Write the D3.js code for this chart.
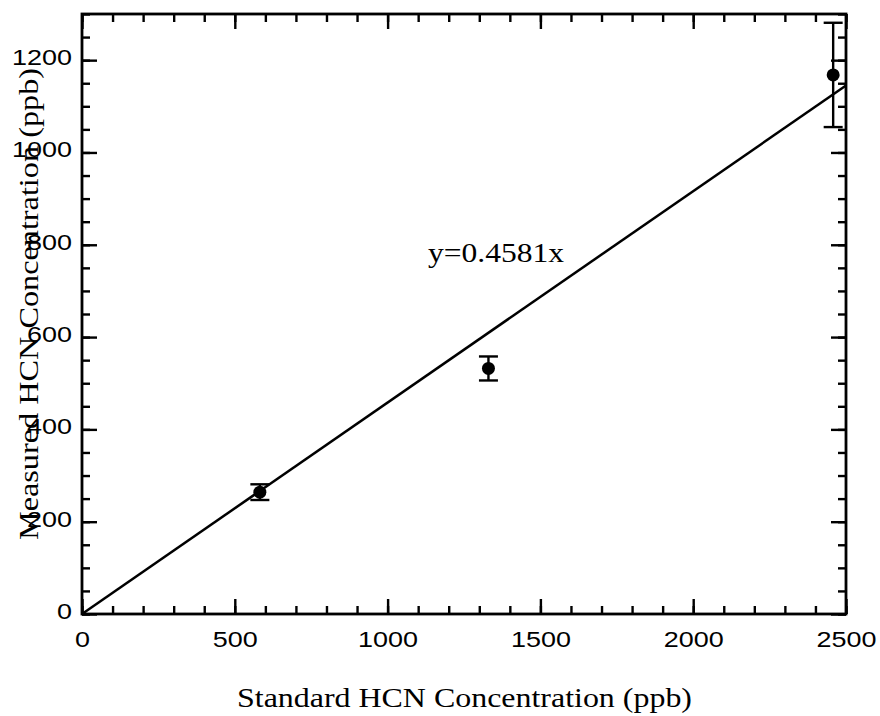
<!DOCTYPE html>
<html>
<head>
<meta charset="utf-8">
<script src="https://cdn.jsdelivr.net/npm/d3@7"></script>
<style>
body { margin: 0; background: #fff; }
svg { display: block; }
</style>
</head>
<body>
<svg id="chart" width="880" height="716"></svg>
<script>
// calibration points
const stdConc = [582, 1330, 2458];      // standard HCN (ppb)
const measConc = [264, 532, 1168];      // measured HCN (ppb)
const errConc = [17, 26, 113];          // +/- error (ppb)
const slope = 0.4581;
const xMajor = [0, 500, 1000, 1500, 2000, 2500];
const yMajor = [0, 200, 400, 600, 800, 1000, 1200];

var svg = d3.select('#chart');
// note: "top" is taken by window.top, so prefix the frame edges
var pLeft = 82, pRight = 846, pTop = 14, pBottom = 614;

var x = d3.scaleLinear().domain([0, 2500]).range([pLeft, pRight]);
var y = d3.scaleLinear().domain([0, 1300]).range([pBottom, pTop]);

function stretchText(sel){
	sel.selectAll('text')
		.attr('font-family', 'Liberation Sans, Arial, sans-serif')
		.attr('font-size', 22)
		.attr('fill', '#000')
		.attr('lengthAdjust', 'spacingAndGlyphs')
		.attr('textLength', function(d){ return String(d).length*15 })
}

// minor ticks, all four sides
var xMinor = d3.range(0, 2501, 100), yMinor = d3.range(0, 1301, 50);
function ticks(axis, tr){
	var g = svg.append('g').attr('transform', tr).call(axis);
	g.select('.domain').remove();
	g.selectAll('line').attr('stroke', '#000').attr('stroke-width', 2.4);
	return g;
}
ticks(d3.axisBottom(x).tickValues(xMinor).tickSize(-8).tickFormat(''), 'translate(0,'+pBottom+')');
ticks(d3.axisTop(x).tickValues(xMinor).tickSize(-8).tickFormat(''), 'translate(0,'+pTop+')');
ticks(d3.axisLeft(y).tickValues(yMinor).tickSize(-8).tickFormat(''), 'translate('+pLeft+',0)');
ticks(d3.axisRight(y).tickValues(yMinor).tickSize(-8).tickFormat(''), 'translate('+pRight+',0)');

// major ticks
var gx = ticks(d3.axisBottom(x).tickValues(xMajor).tickSize(-15).tickFormat(d3.format('d')), 'translate(0,'+pBottom+')');
gx.selectAll('text').attr('y', 33).attr('dy', 0);
stretchText(gx);
ticks(d3.axisTop(x).tickValues(xMajor).tickSize(-15).tickFormat(''), 'translate(0,'+pTop+')');
var gy = ticks(d3.axisLeft(y).tickValues(yMajor).tickSize(-15).tickFormat(d3.format('d')), 'translate('+pLeft+',0)');
gy.selectAll('text').attr('x', -10).attr('dy', 4.5);
stretchText(gy);
ticks(d3.axisRight(y).tickValues(yMajor).tickSize(-15).tickFormat(''), 'translate('+pRight+',0)');

// frame
svg.append('rect')
	.attr('x', pLeft).attr('y', pTop)
	.attr('width', pRight-pLeft).attr('height', pBottom-pTop)
	.attr('fill', 'none').attr('stroke', '#000').attr('stroke-width', 2.8)

// fit line
svg.append('line')
	.attr('x1', x(0)).attr('y1', y(0))
	.attr('x2', x(2500)).attr('y2', y(slope*2500))
	.attr('stroke', '#000').attr('stroke-width', 2.5)

// error bars + points
var pts = stdConc.map(function(d, i){ return {x: d, y: measConc[i], e: errConc[i]} });
var cap = 9.5;
var eb = svg.append('g').selectAll('g').data(pts).enter().append('g');
eb.append('line')
	.attr('x1', function(d){return x(d.x)}).attr('x2', function(d){return x(d.x)})
	.attr('y1', function(d){return y(d.y+d.e)}).attr('y2', function(d){return y(d.y-d.e)})
	.attr('stroke', '#000').attr('stroke-width', 2.4)
eb.append('line')
	.attr('x1', function(d){return x(d.x)-cap}).attr('x2', function(d){return x(d.x)+cap})
	.attr('y1', function(d){return y(d.y+d.e)}).attr('y2', function(d){return y(d.y+d.e)})
	.attr('stroke', '#000').attr('stroke-width', 2.4)
eb.append('line')
	.attr('x1', function(d){return x(d.x)-cap}).attr('x2', function(d){return x(d.x)+cap})
	.attr('y1', function(d){return y(d.y-d.e)}).attr('y2', function(d){return y(d.y-d.e)})
	.attr('stroke', '#000').attr('stroke-width', 2.4)
eb.append('circle')
	.attr('cx', function(d){return x(d.x)}).attr('cy', function(d){return y(d.y)})
	.attr('r', 6.5).attr('fill', '#000')

// labels
svg.append('text')
	.attr('x', 464.5).attr('y', 707)
	.attr('text-anchor', 'middle')
	.attr('font-family', 'Liberation Serif, Times New Roman, serif')
	.attr('font-size', 28)
	.attr('textLength', 455).attr('lengthAdjust', 'spacingAndGlyphs')
	.text('Standard HCN Concentration (ppb)')

svg.append('text')
	.attr('transform', 'translate(38,304) rotate(-90)')
	.attr('text-anchor', 'middle')
	.attr('font-family', 'Liberation Serif, Times New Roman, serif')
	.attr('font-size', 27)
	.attr('textLength', 472).attr('lengthAdjust', 'spacingAndGlyphs')
	.text('Measured HCN Concentration (ppb)')

svg.append('text')
	.attr('x', 428).attr('y', 262)
	.attr('font-family', 'Liberation Serif, Times New Roman, serif')
	.attr('font-size', 27)
	.attr('textLength', 136).attr('lengthAdjust', 'spacingAndGlyphs')
	.text('y=' + slope + 'x')
</script>
</body>
</html>
